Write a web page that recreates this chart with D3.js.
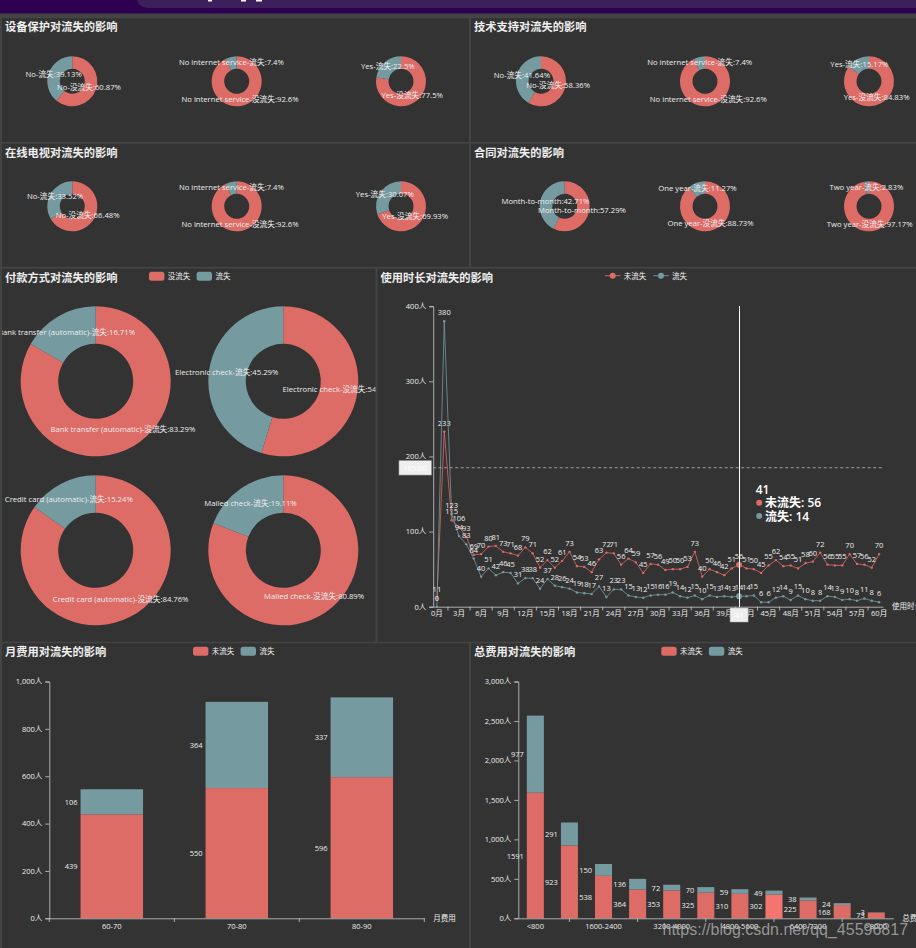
<!DOCTYPE html>
<html>
<head>
<meta charset="utf-8">
<script src="https://cdn.jsdelivr.net/npm/d3@7"></script>
<style>
html, body { margin: 0; padding: 0; background: #444; overflow: hidden; }
svg { display: block; }
text { font-family: "Open Sans", "Noto Sans CJK SC", sans-serif; fill: #eee; }
.title { font-size: 11.25px; font-weight: 700; dominant-baseline: central; }
.pieLabel { font-size: 7.7px; text-anchor: middle; dominant-baseline: central; }
.legendText { font-size: 7.5px; dominant-baseline: central; }
.valueLabel { font-size: 7.5px; dominant-baseline: central; }
.tick text { font-size: 7.5px; fill: #eee; }
.axisName { font-size: 7.5px; dominant-baseline: central; }
</style>
</head>
<body>
<div id="chart"></div>
<script>
// data
var protectCats = ["No", "No internet service", "Yes"];
var protectKeep = [60.87, 92.6, 77.5];
var protectChurn = [39.13, 7.4, 22.5];

var supportCats = ["No", "No internet service", "Yes"];
var supportKeep = [58.36, 92.6, 84.83];
var supportChurn = [41.64, 7.4, 15.17];

var tvCats = ["No", "No internet service", "Yes"];
var tvKeep = [66.48, 92.6, 69.93];
var tvChurn = [33.52, 7.4, 30.07];

var contractCats = ["Month-to-month", "One year", "Two year"];
var contractKeep = [57.29, 88.73, 97.17];
var contractChurn = [42.71, 11.27, 2.83];

var payCats = ["Bank transfer (automatic)", "Electronic check", "Credit card (automatic)", "Mailed check"];
var payKeep = [83.29, 54.71, 84.76, 80.89];
var payChurn = [16.71, 45.29, 15.24, 19.11];

var tenureKeep = [11, 233, 115, 106, 93, 69, 70, 80, 81, 73, 71, 68, 79, 71, 52, 62, 52, 61, 73, 54, 53, 46, 63, 72, 71, 56, 64, 59, 45, 57, 56, 49, 50, 50, 53, 73, 40, 50, 46, 42, 51, 56, 51, 50, 45, 55, 62, 54, 55, 51, 58, 60, 72, 56, 55, 55, 70, 57, 56, 52, 70];
var tenureChurn = [0, 380, 123, 94, 83, 64, 40, 51, 42, 46, 45, 31, 38, 38, 24, 37, 28, 26, 24, 19, 18, 17, 27, 13, 23, 23, 15, 13, 12, 15, 16, 16, 19, 14, 12, 15, 10, 15, 13, 14, 13, 14, 14, 15, 6, 6, 12, 14, 9, 15, 10, 8, 8, 14, 13, 9, 10, 8, 11, 8, 6];
var tenureTicks = [0, 100, 200, 300, 400];
var avgLine = 185;

var monthCats = ["60-70", "70-80", "80-90"];
var monthKeep = [439, 550, 596];
var monthChurn = [106, 364, 337];
var monthTicks = [0, 200, 400, 600, 800, 1000];

var totalCats = ["<800", "800-1600", "1600-2400", "2400-3200", "3200-4000", "4000-4800", "4800-5600", "5600-6400", "6400-7200", "7200-8000", ">8000"];
var totalKeep = [1591, 923, 538, 364, 353, 325, 310, 302, 225, 168, 73];
var totalChurn = [977, 291, 150, 136, 72, 70, 59, 49, 38, 24, 3];
var totalTicks = [0, 500, 1000, 1500, 2000, 2500, 3000];

var RED = "#dd6b66";
var TEAL = "#759aa0";
var PANEL = "#333333";
var fmt = d3.format(",");

var svg = d3.select("#chart").append("svg").attr("width", 916).attr("height", 948);
var defs = svg.append("defs");

// top of the browser page that the screenshot caught
svg.append("rect").attr("width", 916).attr("height", 13.5).attr("fill", "#2d0050");
svg.append("rect").attr("x", 137).attr("y", -12).attr("width", 800).attr("height", 20)
	.attr("rx", 10).attr("fill", "#3d1f5c");
[[208, 4], [241, 5], [256, 6]].forEach(function(s) {
	svg.append("rect").attr("x", s[0]).attr("y", 0).attr("width", s[1]).attr("height", 1.5).attr("fill", "#fff");
});

// makes one dark panel, everything in it gets clipped to the panel
var panelCount = 0;
function addPanel(x0, y0, x1, y1, title) {
	panelCount++;
	var id = "clip" + panelCount;
	defs.append("clipPath").attr("id", id).append("rect")
		.attr("x", x0).attr("y", y0).attr("width", x1 - x0).attr("height", y1 - y0);
	svg.append("rect").attr("x", x0).attr("y", y0).attr("width", x1 - x0).attr("height", y1 - y0).attr("fill", PANEL);
	var g = svg.append("g").attr("clip-path", "url(#" + id + ")");
	g.append("text").attr("class", "title").attr("x", x0 + 3).attr("y", y0 + 8.5).text(title);
	return g;
}

// donut with the keep slice first, clockwise from the top
function addDonut(g, cx, cy, outer, cat, keepVal, churnVal) {
	var rows = [
		{ tag: "-没流失", value: keepVal, color: RED },
		{ tag: "-流失", value: churnVal, color: TEAL }
	];
	var pie = d3.pie().sort(null).value(function(d) { return d.value; });
	var arc = d3.arc().innerRadius(outer / 2).outerRadius(outer);
	var slices = g.append("g").attr("transform", "translate(" + cx + "," + cy + ")");
	slices.selectAll("path").data(pie(rows)).enter().append("path")
		.attr("d", arc)
		.attr("fill", function(d) { return d.data.color; });
	slices.selectAll("text").data(pie(rows)).enter().append("text")
		.attr("class", "pieLabel")
		.attr("x", function(d) { return arc.centroid(d)[0] - 1; })
		.attr("y", function(d) { return arc.centroid(d)[1] - 1; })
		.text(function(d) {
			var tag = cat === "Month-to-month" ? "" : d.data.tag;
			return cat + tag + ":" + d.data.value + "%";
		});
}

function addRectLegend(g, x, y, names) {
	var step = 47.6;
	names.forEach(function(name, i) {
		g.append("rect").attr("x", x + i * step).attr("y", y - 4.5).attr("width", 15.4).attr("height", 9)
			.attr("rx", 2.5).attr("fill", i === 0 ? RED : TEAL);
		g.append("text").attr("class", "legendText").attr("x", x + i * step + 18.8).attr("y", y).text(name);
	});
}

function styleAxis(sel) {
	sel.selectAll("path, line").attr("stroke", "#ccc").attr("stroke-width", 0.8);
	sel.selectAll("text").attr("font-family", null);
}

// stacked bar panel, labels sit to the left of each segment
function addBars(g, opt) {
	var x = d3.scaleBand().domain(opt.cats).range([opt.left, opt.right]);
	var y = d3.scaleLinear().domain([0, opt.max]).range([918.3, 681.5]);
	var rows = opt.cats.map(function(c, i) { return { cat: c, keep: opt.keep[i], churn: opt.churn[i] }; });
	var stacked = d3.stack().keys(["keep", "churn"])(rows);
	var barW = x.bandwidth() / 2;

	stacked.forEach(function(layer, k) {
		var col = k === 0 ? RED : TEAL;
		g.selectAll("rect.s" + k).data(layer).enter().append("rect")
			.attr("class", "s" + k)
			.attr("x", function(d) { return x(d.data.cat) + barW / 2; })
			.attr("y", function(d) { return y(d[1]); })
			.attr("width", barW)
			.attr("height", function(d) { return y(d[0]) - y(d[1]); })
			.attr("fill", function(d) { return k === 0 && d.data.cat === opt.hover ? "#f47570" : col; });
		g.selectAll("text.s" + k).data(layer).enter().append("text")
			.attr("class", "valueLabel s" + k)
			.attr("text-anchor", "end")
			.attr("x", function(d) { return x(d.data.cat) + barW / 2 - 3; })
			.attr("y", function(d) { return (y(d[0]) + y(d[1])) / 2; })
			.text(function(d) { return d[1] - d[0]; });
	});

	var yAxis = d3.axisLeft(y).tickValues(opt.ticks).tickSize(4).tickPadding(3)
		.tickFormat(function(d) { return fmt(d) + "人"; });
	g.append("g").attr("transform", "translate(" + opt.left + ",0)").call(yAxis).call(styleAxis);

	var every = opt.labelEvery;
	var xAxis = d3.axisBottom(x).tickSize(0).tickPadding(5)
		.tickValues(opt.cats.filter(function(c, i) { return i % every === 0; }));
	g.append("g").attr("transform", "translate(0,918.3)").call(xAxis).call(styleAxis);

	// tick marks sit between the labels, not on them
	var step = x.bandwidth() * every;
	var first = every === 1 ? opt.left : opt.left + x.bandwidth() * 1.5;
	d3.range(first, opt.right + 0.5, step).forEach(function(px) {
		g.append("line").attr("x1", px).attr("x2", px).attr("y1", 918.3).attr("y2", 922)
			.attr("stroke", "#ccc").attr("stroke-width", 0.8);
	});
	g.append("text").attr("class", "axisName").attr("x", opt.right + 9).attr("y", 918).text(opt.name);
}

// first two rows of small donuts
var p1 = addPanel(2, 18.3, 469, 142, "设备保护对流失的影响");
var p2 = addPanel(471, 18.3, 916, 142, "技术支持对流失的影响");
var p3 = addPanel(2, 143.7, 469, 266.7, "在线电视对流失的影响");
var p4 = addPanel(471, 143.7, 916, 266.7, "合同对流失的影响");
var leftCx = [72.3, 236.7, 401];

protectCats.forEach(function(c, i) { addDonut(p1, leftCx[i], 81.3, 25, c, protectKeep[i], protectChurn[i]); });
supportCats.forEach(function(c, i) { addDonut(p2, [541, 705, 869][i], 81.3, 25, c, supportKeep[i], supportChurn[i]); });
tvCats.forEach(function(c, i) { addDonut(p3, leftCx[i], 206.3, 25, c, tvKeep[i], tvChurn[i]); });
contractCats.forEach(function(c, i) { addDonut(p4, [564.7, 705, 869][i], 206.3, 25, c, contractKeep[i], contractChurn[i]); });

// payment donuts
var p5 = addPanel(2, 268.7, 375.5, 641.7, "付款方式对流失的影响");
addRectLegend(p5, 149, 276.3, ["没流失", "流失"]);
payCats.forEach(function(c, i) {
	addDonut(p5, [95.7, 283.3][i % 2], [381.3, 550.3][Math.floor(i / 2)], 75, c, payKeep[i], payChurn[i]);
});

// tenure line chart
var p6 = addPanel(377.5, 268.7, 916, 641.7, "使用时长对流失的影响");
var months = tenureKeep.map(function(d, i) { return i; });
var xT = d3.scaleBand().domain(months).range([433.2, 882.8]);
var yT = d3.scaleLinear().domain([0, 400]).range([606.7, 306.2]);
var xMid = function(i) { return xT(i) + xT.bandwidth() / 2; };
var hoverMonth = 41;

var yAxisT = d3.axisLeft(yT).tickValues(tenureTicks).tickSize(4).tickPadding(3)
	.tickFormat(function(d) { return fmt(d) + "人"; });
p6.append("g").attr("transform", "translate(433.2,0)").call(yAxisT).call(styleAxis);

var xAxisT = d3.axisBottom(xT).tickSize(0).tickPadding(4)
	.tickValues(months.filter(function(m) { return m % 3 === 0; }))
	.tickFormat(function(m) { return m + "月"; });
p6.append("g").attr("transform", "translate(0,606.7)").call(xAxisT).call(styleAxis);
months.filter(function(m) { return m % 3 === 1; }).forEach(function(m) {
	var px = xMid(m) + xT.bandwidth() / 2;
	p6.append("line").attr("x1", px).attr("x2", px).attr("y1", 606.7).attr("y2", 610.5)
		.attr("stroke", "#ccc").attr("stroke-width", 0.8);
});
p6.append("text").attr("class", "axisName").attr("x", 892).attr("y", 605.7).text("使用时长");

// average mark line
p6.append("line").attr("x1", 433.2).attr("x2", 882.8).attr("y1", yT(avgLine)).attr("y2", yT(avgLine))
	.attr("stroke", "#aaa").attr("stroke-width", 0.9).attr("stroke-dasharray", "3,2.5");

function addLineSeries(values, col) {
	var line = d3.line().x(function(d, i) { return xMid(i); }).y(function(d) { return yT(d); });
	p6.append("path").attr("d", line(values)).attr("fill", "none").attr("stroke", col).attr("stroke-width", 0.8);
	p6.append("g").selectAll("circle").data(values).enter().append("circle")
		.attr("cx", function(d, i) { return xMid(i); })
		.attr("cy", function(d) { return yT(d); })
		.attr("r", function(d, i) { return i === hoverMonth ? 3 : 1.2; })
		.attr("fill", col);
	p6.append("g").selectAll("text").data(values).enter().append("text")
		.attr("class", "valueLabel")
		.attr("text-anchor", "middle")
		.attr("x", function(d, i) { return xMid(i); })
		.attr("y", function(d) { return yT(d) - 9; })
		.text(function(d) { return d; });
}
addLineSeries(tenureKeep, RED);
addLineSeries(tenureChurn, TEAL);

// hover crosshair + its axis pointer label
p6.append("line").attr("x1", xMid(hoverMonth)).attr("x2", xMid(hoverMonth)).attr("y1", 306.2).attr("y2", 606.7)
	.attr("stroke", "#fff").attr("stroke-width", 1).attr("shape-rendering", "crispEdges");
p6.append("rect").attr("x", xMid(hoverMonth) - 9).attr("y", 608).attr("width", 18).attr("height", 14)
	.attr("fill", "#eee").attr("stroke", "#aaa").attr("stroke-width", 0.5);
p6.append("text").attr("x", xMid(hoverMonth)).attr("y", 615).attr("text-anchor", "middle")
	.attr("dominant-baseline", "central").attr("font-size", 7.5).style("fill", "#fff").text(hoverMonth);

// mark line label on the axis
svg.append("rect").attr("x", 399).attr("y", 460.7).attr("width", 32.3).attr("height", 14.3)
	.attr("fill", "#eee").attr("stroke", "#aaa").attr("stroke-width", 0.6);
svg.append("text").attr("x", 415).attr("y", 467.8).attr("text-anchor", "middle")
	.attr("dominant-baseline", "central").attr("font-size", 7.5).style("fill", "#fff").text(avgLine.toFixed(2));

// tooltip
var tipX = 755.7;
p6.append("text").attr("x", tipX).attr("y", 489.3).attr("dominant-baseline", "central")
	.attr("font-size", 12).attr("font-weight", 600).style("fill", "#fff").text(hoverMonth);
[["未流失", tenureKeep, RED, 502.7], ["流失", tenureChurn, TEAL, 516]].forEach(function(r) {
	p6.append("circle").attr("cx", tipX + 3.5).attr("cy", r[3]).attr("r", 3).attr("fill", r[2]);
	p6.append("text").attr("x", tipX + 9.3).attr("y", r[3]).attr("dominant-baseline", "central")
		.attr("font-size", 12).attr("font-weight", 600).style("fill", "#fff")
		.text(r[0] + ": " + r[1][hoverMonth]);
});

// line legend
[["未流失", RED, 605], ["流失", TEAL, 653.3]].forEach(function(r) {
	p6.append("line").attr("x1", r[2]).attr("x2", r[2] + 15.4).attr("y1", 275.7).attr("y2", 275.7)
		.attr("stroke", r[1]).attr("stroke-width", 0.9);
	p6.append("circle").attr("cx", r[2] + 7.7).attr("cy", 275.7).attr("r", 3).attr("fill", r[1]);
	p6.append("text").attr("class", "legendText").attr("x", r[2] + 18.8).attr("y", 275.7).text(r[0]);
});

// bottom row bars
var p7 = addPanel(2, 643.3, 469, 948, "月费用对流失的影响");
addRectLegend(p7, 193, 651.3, ["未流失", "流失"]);
addBars(p7, { cats: monthCats, keep: monthKeep, churn: monthChurn, ticks: monthTicks, max: 1000,
	left: 49.3, right: 424.3, name: "月费用", labelEvery: 1 });

var p8 = addPanel(471, 643.3, 916, 948, "总费用对流失的影响");
addRectLegend(p8, 661.3, 651.3, ["未流失", "流失"]);
addBars(p8, { cats: totalCats, keep: totalKeep, churn: totalChurn, ticks: totalTicks, max: 3000,
	left: 518.3, right: 893.3, name: "总费用", labelEvery: 2, hover: "5600-6400" });

// csdn watermark baked into the screenshot
svg.append("text").attr("x", 662.5).attr("y", 929).attr("dominant-baseline", "central")
	.attr("font-size", 16).style("font-family", "'Liberation Sans', Arial, sans-serif")
	.style("fill", "rgba(190,190,190,0.72)").text("https://blog.csdn.net/qq_45596817");
</script>
</body>
</html>
